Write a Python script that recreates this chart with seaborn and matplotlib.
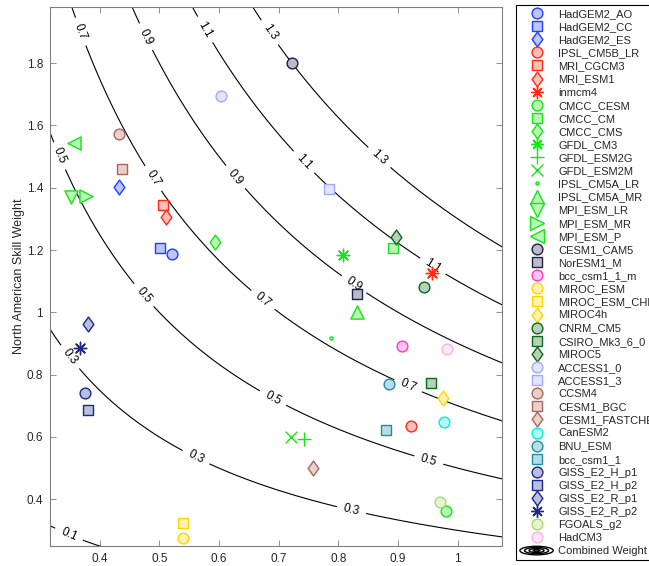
import matplotlib
matplotlib.use("Agg")
import matplotlib.pyplot as plt
import numpy as np
import seaborn as sns
from matplotlib.colors import to_rgb
from matplotlib.legend_handler import HandlerBase
from matplotlib.lines import Line2D
from matplotlib.patches import Ellipse
from matplotlib.path import Path

# model names, in legend order
models = ["HadGEM2_AO", "HadGEM2_CC", "HadGEM2_ES", "IPSL_CM5B_LR", "MRI_CGCM3", "MRI_ESM1",
          "inmcm4", "CMCC_CESM", "CMCC_CM", "CMCC_CMS", "GFDL_CM3", "GFDL_ESM2G", "GFDL_ESM2M",
          "IPSL_CM5A_LR", "IPSL_CM5A_MR", "MPI_ESM_LR", "MPI_ESM_MR", "MPI_ESM_P", "CESM1_CAM5",
          "NorESM1_M", "bcc_csm1_1_m", "MIROC_ESM", "MIROC_ESM_CHEM", "MIROC4h", "CNRM_CM5",
          "CSIRO_Mk3_6_0", "MIROC5", "ACCESS1_0", "ACCESS1_3", "CCSM4", "CESM1_BGC",
          "CESM1_FASTCHEM", "CanESM2", "BNU_ESM", "bcc_csm1_1", "GISS_E2_H_p1", "GISS_E2_H_p2",
          "GISS_E2_R_p1", "GISS_E2_R_p2", "FGOALS_g2", "HadCM3"]

# x: skill weight (other axis), y: North American skill weight
x_weight = [0.522, 0.501, 0.432, 0.921, 0.507, 0.512,
            0.957, 0.981, 0.891, 0.594, 0.808, 0.743, 0.721,
            0.788, 0.831, 0.352, 0.378, 0.357, 0.723,
            0.831, 0.906, 0.540, 0.540, 0.975, 0.943,
            0.955, 0.896, 0.603, 0.785, 0.432, 0.438,
            0.758, 0.977, 0.884, 0.879, 0.376, 0.380,
            0.381, 0.368, 0.970, 0.982]
y_weight = [1.186, 1.208, 1.401, 0.634, 1.343, 1.306,
            1.127, 0.361, 1.207, 1.226, 1.184, 0.592, 0.599,
            0.917, 1.000, 1.369, 1.373, 1.543, 1.800,
            1.060, 0.891, 0.276, 0.323, 0.725, 1.080,
            0.773, 1.241, 1.693, 1.396, 1.572, 1.461,
            0.500, 0.648, 0.769, 0.621, 0.742, 0.687,
            0.964, 0.884, 0.390, 0.882]

# contour levels of the combined weight
levels = [0.1, 0.3, 0.5, 0.7, 0.9, 1.1, 1.3]
x_ticks = [0.4, 0.5, 0.6, 0.7, 0.8, 0.9, 1.0]
y_ticks = [0.4, 0.6, 0.8, 1.0, 1.2, 1.4, 1.6, 1.8]

# ---- styles ----
diamond = Path([(0, 1), (0.72, 0), (0, -1), (-0.72, 0), (0, 1)], closed=True)
star = (8, 2, 0)
marker_of = {"o": "o", "s": "s", "d": diamond, "*": star, "+": "+", "x": "x", ".": ".",
             "^": "^", "v": "v", ">": ">", "<": "<"}
size_of = {"o": 60, "s": 48, "d": 115, "*": 80, "+": 95, "x": 70, ".": 20,
           "^": 90, "v": 90, ">": 90, "<": 90}
shapes = ["o", "s", "d", "o", "s", "d",
          "*", "o", "s", "d", "*", "+", "x",
          ".", "^", "v", ">", "<", "o",
          "s", "o", "o", "s", "d", "o",
          "s", "d", "o", "s", "o", "s",
          "d", "o", "o", "s", "o", "s",
          "d", "*", "o", "o"]
blue, red, green = "#1f3dff", "#ff2a14", "#14e614"
navygray, magenta, yellow = "#1c1f4a", "#ff38c8", "#ffd400"
dkgreen, ltblue, brown = "#0d6619", "#a0a8ff", "#b0645a"
cyan, teal, navy = "#00f0d8", "#1a8fa8", "#1a2890"
ltgreen, pink = "#a8dc6c", "#ffb0e0"
edges = [blue, blue, blue, red, red, red,
         red, green, green, green, green, green, green,
         green, green, green, green, green, navygray,
         navygray, magenta, yellow, yellow, yellow, dkgreen,
         dkgreen, dkgreen, ltblue, ltblue, brown, brown,
         brown, cyan, teal, teal, navy, navy,
         navy, navy, ltgreen, pink]


def pale(c, a=0.3):
    r = np.array(to_rgb(c))
    return tuple(1 - a + a * r)


class CombinedWeight:
    pass


class ContourHandler(HandlerBase):
    def create_artists(self, legend, orig_handle, xdescent, ydescent, width, height, fontsize, trans):
        cx = width / 2 - xdescent
        cy = height / 2 - ydescent
        out = []
        for f in (1.0, 0.72, 0.45, 0.2):
            out.append(Ellipse((cx, cy), width * f, height * 1.1 * f, fill=False,
                               edgecolor="black", lw=1.0, transform=trans))
        return out


sns.set_theme(style="ticks")
plt.rcParams["font.family"] = ["Liberation Sans", "DejaVu Sans"]

fig = plt.figure(figsize=(6.49, 5.66), dpi=100)
ax = fig.add_axes([50 / 649, 20 / 566, 452 / 649, 539 / 566])

# combined weight surface = product of the two weights
gx = np.linspace(0.3, 1.1, 400)
gy = np.linspace(0.2, 2.0, 400)
GX, GY = np.meshgrid(gx, gy)
cs = ax.contour(GX, GY, GX * GY, levels=levels, colors="black", linewidths=0.8, zorder=1)
label_spots = [(0.367, 1.90), (0.477, 1.884), (0.576, 1.907), (0.684, 1.897),
               (0.33, 1.50), (0.49, 1.43), (0.625, 1.43), (0.741, 1.48), (0.87, 1.50),
               (0.957, 1.145), (0.83, 1.10), (0.676, 1.045), (0.474, 1.055),
               (0.918, 0.77), (0.692, 0.73), (0.952, 0.53),
               (0.346, 0.85), (0.56, 0.53), (0.822, 0.365), (0.348, 0.285)]
ax.clabel(cs, levels, inline=True, fmt="%g", fontsize=8.5, manual=label_spots, inline_spacing=6)

handles = []
for i, name in enumerate(models):
    m = marker_of[shapes[i]]
    s = size_of[shapes[i]]
    mk = matplotlib.markers.MarkerStyle(m)
    if mk.is_filled():
        sns.scatterplot(x=[x_weight[i]], y=[y_weight[i]], marker=m, s=s, color=pale(edges[i]),
                        edgecolor=edges[i], linewidth=1.0, ax=ax, legend=False, zorder=3)
    else:
        sns.scatterplot(x=[x_weight[i]], y=[y_weight[i]], marker=m, s=s, color=edges[i],
                        linewidth=1.0, ax=ax, legend=False, zorder=3)
    handles.append(Line2D([], [], linestyle="none", marker=m, markersize=np.sqrt(s),
                          markerfacecolor=pale(edges[i]), markeredgecolor=edges[i],
                          markeredgewidth=1.0, label=name))
handles.append(CombinedWeight())
labels = models + ["Combined Weight"]

ax.set_xlim(0.317, 1.074)
ax.set_ylim(0.25, 1.98)
ax.set_xticks(x_ticks)
ax.set_yticks(y_ticks)
ax.set_xticklabels(["%g" % v for v in x_ticks])
ax.set_yticklabels(["%g" % v for v in y_ticks])
ax.tick_params(direction="in", top=True, right=True, length=4, width=0.6,
               colors="#7f7f7f", labelcolor="#262626", labelsize=8.5, pad=5)
for sp in ax.spines.values():
    sp.set_color("#7f7f7f")
    sp.set_linewidth(0.8)
ax.set_xlabel("")
ax.set_ylabel("North American Skill Weight", fontsize=9, color="#262626", labelpad=1)

leg = fig.legend(handles, labels, loc="upper left", bbox_to_anchor=(516 / 649, 1 - 5 / 566),
                 handler_map={CombinedWeight: ContourHandler()}, fontsize=8, frameon=True,
                 fancybox=False, framealpha=1, edgecolor="black", borderpad=0.35,
                 labelspacing=0.28, handlelength=3.0, handletextpad=0.45, borderaxespad=0,
                 numpoints=1)
leg.get_frame().set_linewidth(0.8)

fig.savefig("out.png", dpi=100)
